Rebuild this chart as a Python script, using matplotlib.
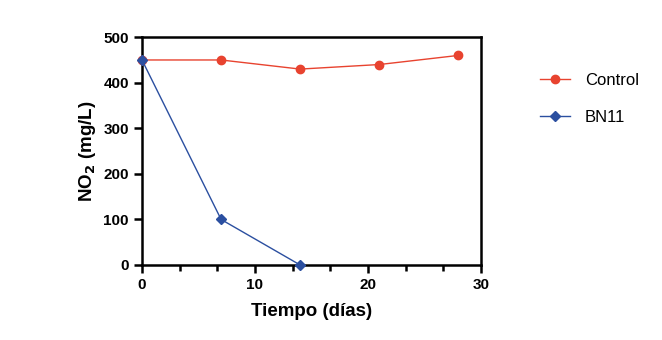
import matplotlib
matplotlib.use("Agg")
import matplotlib.pyplot as plt
from matplotlib.ticker import MultipleLocator

plt.rcParams['font.family'] = ['Liberation Sans', 'DejaVu Sans']

# data
control_days = [0, 7, 14, 21, 28]
control_no2 = [450, 450, 430, 440, 460]
bn11_days = [0, 7, 14]
bn11_no2 = [450, 100, 0]

fig = plt.figure(figsize=(6.62, 3.4), dpi=100)
ax = fig.add_axes([0.2145, 0.2206, 0.512, 0.670])

ax.plot(control_days, control_no2, color='#E8432F', marker='o', markersize=6,
        linewidth=1.0, label='Control', clip_on=False, zorder=3)
ax.plot(bn11_days, bn11_no2, color='#2B4FA0', marker='D', markersize=5,
        linewidth=1.0, label='BN11', clip_on=False, zorder=4)

ax.set_xlim(0, 30)
ax.set_ylim(0, 500)
ax.xaxis.set_major_locator(MultipleLocator(10))
ax.xaxis.set_minor_locator(MultipleLocator(10 / 3))
ax.yaxis.set_major_locator(MultipleLocator(100))

for s in ax.spines.values():
    s.set_linewidth(1.8)
ax.tick_params(which='major', length=6, width=1.8, labelsize=11)
ax.tick_params(which='minor', length=4, width=1.8)
for lbl in ax.get_xticklabels() + ax.get_yticklabels():
    lbl.set_fontweight('bold')

ax.set_xlabel('Tiempo (días)', fontsize=13.5, fontweight='bold', labelpad=8)
ax.set_ylabel(r'NO$_\mathbf{2}$ (mg/L)', fontsize=13.5, fontweight='bold', labelpad=4)

ax.legend(loc='upper left', bbox_to_anchor=(1.13, 0.91), frameon=False,
          fontsize=12, labelspacing=1.35, handlelength=1.8, handletextpad=0.9)

fig.savefig('out.png', dpi=100)
